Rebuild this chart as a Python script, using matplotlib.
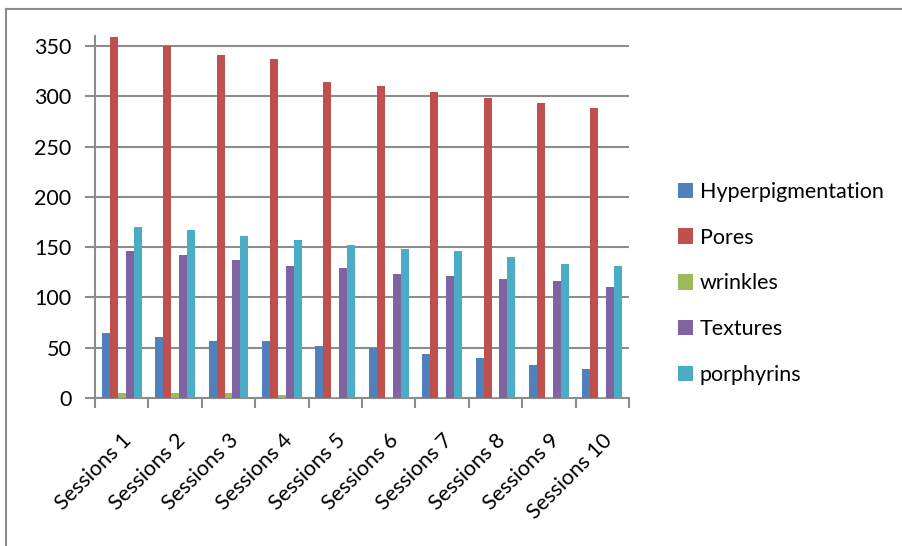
import matplotlib
matplotlib.use('Agg')
import matplotlib.pyplot as plt
import numpy as np
from matplotlib.lines import Line2D

sessions = ['Sessions 1', 'Sessions 2', 'Sessions 3', 'Sessions 4', 'Sessions 5',
            'Sessions 6', 'Sessions 7', 'Sessions 8', 'Sessions 9', 'Sessions 10']
hyperpigmentation = [65, 61, 57, 57, 52, 50, 44, 40, 33, 29]
pores = [359, 350, 341, 337, 314, 310, 304, 298, 293, 288]
wrinkles = [5, 5, 5, 3, 1, 1, 1, 1, 1, 1]
textures = [146, 142, 137, 131, 129, 123, 121, 118, 116, 110]
porphyrins = [170, 167, 161, 157, 152, 148, 146, 140, 133, 131]

series = [('Hyperpigmentation', hyperpigmentation, '#4F81BD'),
          ('Pores', pores, '#C0504D'),
          ('wrinkles', wrinkles, '#9BBB59'),
          ('Textures', textures, '#8064A2'),
          ('porphyrins', porphyrins, '#4BACC6')]

plt.rcParams['font.family'] = ['Lato', 'DejaVu Sans']
fs = 15.5

fig = plt.figure(figsize=(9.02, 5.46), dpi=100)
ax = fig.add_axes([95/902, 1 - 398/546, (629 - 95)/902, (398 - 36)/546])

x = np.arange(len(sessions))
w = 0.149
for i, (name, vals, col) in enumerate(series):
    ax.bar(x + (i - 2) * w, vals, w, color=col, label=name, zorder=3,
           edgecolor='none')

ax.set_xlim(-0.5, len(sessions) - 0.5)
ax.set_ylim(0, 360)
ax.set_yticks(range(0, 351, 50))
ax.yaxis.grid(True, color='#8c8c8c', linewidth=1.5, zorder=0)
ax.set_axisbelow(True)

ax.set_xticks(np.arange(len(sessions) + 1) - 0.5, minor=False)
ax.set_xticklabels([])
ax.set_xticks(x, minor=True)
ax.set_xticklabels(sessions, minor=True, rotation=45, ha='right',
                   rotation_mode='anchor', fontsize=fs)
ax.tick_params(axis='x', which='minor', length=0, pad=23)
ax.tick_params(axis='x', which='major', length=7, width=1.5, color='#8c8c8c')
ax.tick_params(axis='y', length=7, width=1.5, color='#8c8c8c', labelsize=fs, pad=10)

for s in ['top', 'right']:
    ax.spines[s].set_visible(False)
for s in ['left', 'bottom']:
    ax.spines[s].set_color('#8c8c8c')
    ax.spines[s].set_linewidth(1.5)

leg = fig.legend(loc='upper left', bbox_to_anchor=(667/902, 1 - 171/546),
                 frameon=False, fontsize=fs, handlelength=0.72, handleheight=0.72,
                 handletextpad=0.3, labelspacing=1.2, borderpad=0)

# outer chart frame (only top and left edges show)
fig.add_artist(Line2D([6/902, 6/902], [0, 1 - 9/546], color='#8c8c8c', linewidth=1.5))
fig.add_artist(Line2D([6/902, 1], [1 - 9/546, 1 - 9/546], color='#8c8c8c', linewidth=1.5))

fig.savefig('out.png', dpi=100)
